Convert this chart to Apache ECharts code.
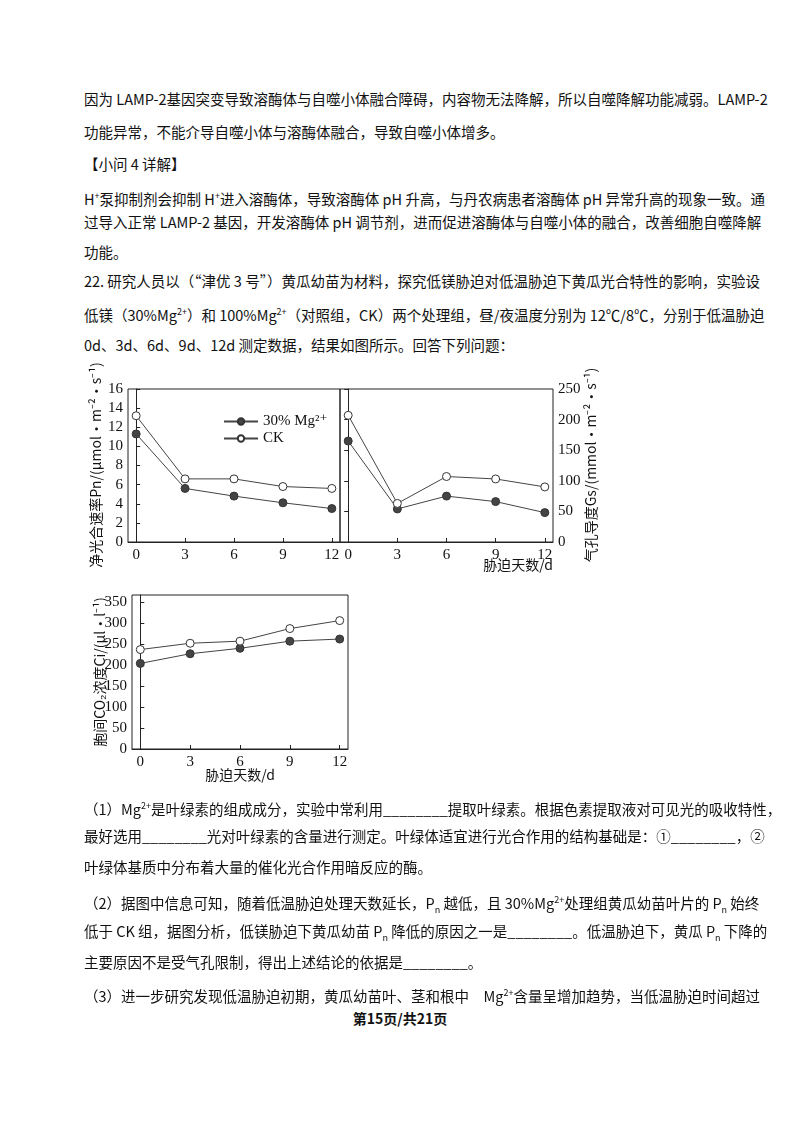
<!DOCTYPE html>
<html><head><meta charset="utf-8">
<script src="https://cdn.jsdelivr.net/npm/echarts@6/dist/echarts.min.js"></script>
<style>
body{margin:0;width:800px;height:1132px;background:#fff;position:relative;font-family:"Noto Sans CJK SC","DejaVu Sans",sans-serif;color:#111;}
.l{position:absolute;left:84px;width:632px;font-size:14.5px;line-height:20px;white-space:nowrap;text-align:justify;text-align-last:justify;}
.n{text-align-last:left;}
#c{position:absolute;left:0;top:360px;width:800px;height:440px;}
</style></head><body>
<div class="l" style="top:89px">因为 LAMP-2基因突变导致溶酶体与自噬小体融合障碍，内容物无法降解，所以自噬降解功能减弱。LAMP-2</div>
<div class="l n" style="top:122px">功能异常，不能介导自噬小体与溶酶体融合，导致自噬小体增多。</div>
<div class="l n" style="top:154px">【小问 4 详解】</div>
<div class="l" style="top:186px">H<sup style="font-size:9px">+</sup>泵抑制剂会抑制 H<sup style="font-size:9px">+</sup>进入溶酶体，导致溶酶体 pH 升高，与丹农病患者溶酶体 pH 异常升高的现象一致。通</div>
<div class="l" style="top:212px">过导入正常 LAMP-2 基因，开发溶酶体 pH 调节剂，进而促进溶酶体与自噬小体的融合，改善细胞自噬降解</div>
<div class="l n" style="top:242px">功能。</div>
<div class="l" style="top:271px">22. 研究人员以（“津优 3 号”）黄瓜幼苗为材料，探究低镁胁迫对低温胁迫下黄瓜光合特性的影响，实验设</div>
<div class="l" style="top:302px">低镁（30%Mg<sup style="font-size:9px">2+</sup>）和 100%Mg<sup style="font-size:9px">2+</sup>（对照组，CK）两个处理组，昼/夜温度分别为 12℃/8℃，分别于低温胁迫</div>
<div class="l n" style="top:335px">0d、3d、6d、9d、12d 测定数据，结果如图所示。回答下列问题：</div>
<div id="c"></div>
<div class="l" style="top:796px">（1）Mg<sup style="font-size:9px">2+</sup>是叶绿素的组成成分，实验中常利用________提取叶绿素。根据色素提取液对可见光的吸收特性，</div>
<div class="l" style="top:826px">最好选用________光对叶绿素的含量进行测定。叶绿体适宜进行光合作用的结构基础是：①________，②</div>
<div class="l n" style="top:857px">叶绿体基质中分布着大量的催化光合作用暗反应的酶。</div>
<div class="l" style="top:890px">（2）据图中信息可知，随着低温胁迫处理天数延长，P<sub style="font-size:9px">n</sub> 越低，且 30%Mg<sup style="font-size:9px">2+</sup>处理组黄瓜幼苗叶片的 P<sub style="font-size:9px">n</sub> 始终</div>
<div class="l" style="top:921px">低于 CK 组，据图分析，低镁胁迫下黄瓜幼苗 P<sub style="font-size:9px">n</sub> 降低的原因之一是________。低温胁迫下，黄瓜 P<sub style="font-size:9px">n</sub> 下降的</div>
<div class="l n" style="top:952px">主要原因不是受气孔限制，得出上述结论的依据是________。</div>
<div class="l" style="top:983px">（3）进一步研究发现低温胁迫初期，黄瓜幼苗叶、茎和根中　Mg<sup style="font-size:9px">2+</sup>含量呈增加趋势，当低温胁迫时间超过</div>
<div style="position:absolute;top:1008px;left:0;width:800px;text-align:center;font-size:14px;font-weight:bold">第15页/共21页</div>
<script>
const days=[0,3,6,9,12];
const pnMg=[11.3,5.6,4.8,4.1,3.5];
const pnCK=[13.2,6.6,6.6,5.8,5.6];
const gsMg=[165,54,75,66,48];
const gsCK=[207,63,107,103,90];
const ciMg=[204,227,240,257,262];
const ciCK=[237,252,257,287,306];
const pnTicks=[0,2,4,6,8,10,12,14,16];
const gsTicks=[0,50,100,150,200,250];
const ciTicks=[0,50,100,150,200,250,300,350];
const T=360;
const font='"Liberation Serif","DejaVu Serif",serif';
const cjk='"Noto Sans CJK SC",sans-serif';
function xa(i){return {type:'value',gridIndex:i,min:-0.5,max:12.5,
 axisLine:{lineStyle:{color:'#222'}},splitLine:{show:false},
 axisTick:{inside:true,length:4,customValues:days,lineStyle:{color:'#222'}},
 axisLabel:{customValues:days,color:'#111',fontSize:15,fontFamily:font,margin:6}};}
function ya(i,max,ticks,pos){return {type:'value',gridIndex:i,min:0,max:max,position:pos||'left',
 axisLine:{show:true,lineStyle:{color:'#222'}},splitLine:{show:false},
 axisTick:{show:true,inside:true,length:4,customValues:ticks,lineStyle:{color:'#222'}},
 axisLabel:{customValues:ticks,color:'#111',fontSize:15,fontFamily:font,margin:5}};}
function s(name,data,x,y,filled){return {name:name,type:'line',xAxisIndex:x,yAxisIndex:y,
 data:days.map((d,i)=>[d,data[i]]),symbol:'circle',symbolSize:8,
 lineStyle:{color:'#444',width:1},
 itemStyle:{color:filled?'#444':'#fff',borderColor:'#333',borderWidth:1}};}
const ch=echarts.init(document.getElementById('c'));
ch.setOption({animation:false,
 grid:[{left:128,top:389-T,width:212,height:153,show:true,borderColor:'#222'},
       {left:340,top:389-T,width:213,height:153,show:true,borderColor:'#222'},
       {left:132,top:595-T,width:216,height:154,show:true,borderColor:'#222'}],
 xAxis:[xa(0),xa(1),xa(2)],
 yAxis:[ya(0,16,pnTicks),ya(1,250,gsTicks,'right'),ya(2,367,ciTicks)],
 legend:{left:218,top:409-T,orient:'vertical',itemGap:2,itemWidth:34,itemHeight:8,
  data:['30% Mg²⁺','CK'],textStyle:{fontFamily:font,fontSize:15,color:'#111'}},
 series:[s('30% Mg²⁺',pnMg,0,0,true),s('CK',pnCK,0,0,false),
  s('30% Mg²⁺',gsMg,1,1,true),s('CK',gsCK,1,1,false),
  s('30% Mg²⁺',ciMg,2,2,true),s('CK',ciCK,2,2,false)],
 graphic:[
  {type:'text',x:90,y:540-T,rotation:Math.PI/2*1,style:{text:'',}},
  {type:'text',x:89,y:465-T,rotation:Math.PI/2,style:{text:'净光合速率Pn/(μmol·m⁻²·s⁻¹)',font:'14px '+cjk,fill:'#111',align:'center',verticalAlign:'top'}},
  {type:'text',x:584,y:465-T,rotation:Math.PI/2,style:{text:'气孔导度Gs/(mmol·m⁻²·s⁻¹)',font:'14px '+cjk,fill:'#111',align:'center',verticalAlign:'top'}},
  {type:'text',x:93,y:672-T,rotation:Math.PI/2,style:{text:'胞间CO₂浓度Ci/(μl·l⁻¹)',font:'14px '+cjk,fill:'#111',align:'center',verticalAlign:'top'}},
  {type:'text',x:553,y:558-T,style:{text:'胁迫天数/d',font:'14px '+cjk,fill:'#111',align:'right'}},
  {type:'text',x:240,y:768-T,style:{text:'胁迫天数/d',font:'14px '+cjk,fill:'#111',align:'center'}}
 ]});
</script>
</body></html>
